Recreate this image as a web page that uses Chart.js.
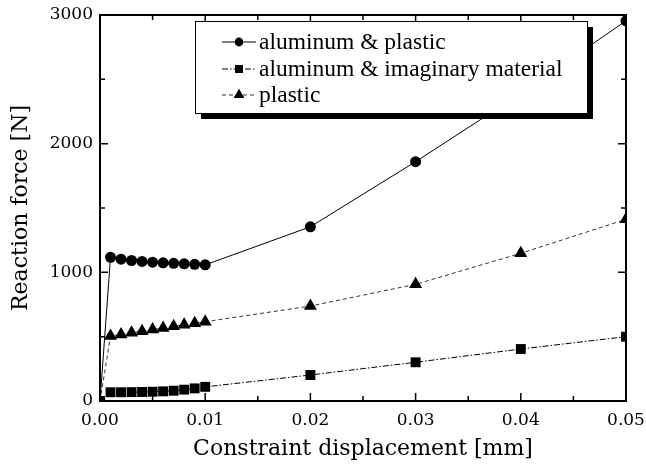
<!DOCTYPE html>
<html>
<head>
<meta charset="utf-8">
<script src="https://cdn.jsdelivr.net/npm/chart.js@4"></script>
<style>
  html, body { margin: 0; padding: 0; background: #fff; }
  #wrap { width: 646px; height: 465px; }
</style>
</head>
<body>
<div id="wrap"><canvas id="forceChart" width="646" height="465"></canvas></div>
<script>
/* Reaction force vs constraint displacement */

const dispMm = [0, 0.001, 0.002, 0.003, 0.004, 0.005, 0.006, 0.007, 0.008, 0.009, 0.01, 0.02, 0.03, 0.04, 0.05];
const alPlastic = [0, 1117, 1102, 1092, 1085, 1079, 1074, 1070, 1066, 1062, 1058, 1354, 1860, 2390, 2955];
const alImaginary = [0, 68, 68, 69, 70, 72, 75, 80, 88, 98, 110, 202, 301, 404, 500];
const plasticOnly = [0, 505, 517, 530, 543, 555, 567, 580, 592, 604, 616, 738, 907, 1148, 1412];

const seriesNames = ["aluminum & plastic", "aluminum & imaginary material", "plastic"];
const xTicks = [0, 0.01, 0.02, 0.03, 0.04, 0.05];
const yTicks = [0, 1000, 2000, 3000];

const TICK_FONT = { family: "DejaVu Serif", size: 17 };
const TITLE_FONT = { family: "DejaVu Serif", size: 22 };

function pts(ys) {
  return dispMm.map((x, i) => ({ x, y: ys[i] }));
}

const styles = [
  { marker: "circle", radius: 5.5, dash: [], color: "#000" },
  { marker: "rect", radius: 7, dash: [6, 2, 1.5, 2], color: "#000" },
  { marker: "triangle", radius: 7.5, dash: [4, 3], color: "#333" },
];

const datasets = [alPlastic, alImaginary, plasticOnly].map((ys, i) => ({
  label: seriesNames[i],
  data: pts(ys),
  showLine: true,
  borderColor: styles[i].color,
  borderWidth: 1,
  borderDash: styles[i].dash,
  pointStyle: styles[i].marker,
  pointRadius: styles[i].radius,
  pointBackgroundColor: "#000",
  pointBorderColor: "#000",
  pointBorderWidth: 0,
  clip: 0,
}));

// frame with inward ticks on all four sides, plus the boxed legend
const framePlugin = {
  id: "frame",
  afterDatasetsDraw(chart) {
    const { ctx, chartArea: a, scales } = chart;
    ctx.save();
    ctx.strokeStyle = "#000";
    ctx.lineWidth = 2;
    ctx.strokeRect(a.left, a.top, a.right - a.left, a.bottom - a.top);
    ctx.lineWidth = 1.5;
    ctx.beginPath();
    for (let k = 0; k <= 10; k++) {
      const px = scales.x.getPixelForValue(k * 0.005);
      const len = k % 2 === 0 ? 8 : 5;
      ctx.moveTo(px, a.bottom); ctx.lineTo(px, a.bottom - len);
      ctx.moveTo(px, a.top); ctx.lineTo(px, a.top + len);
    }
    for (let k = 0; k <= 6; k++) {
      const py = scales.y.getPixelForValue(k * 500);
      const len = k % 2 === 0 ? 8 : 5;
      ctx.moveTo(a.left, py); ctx.lineTo(a.left + len, py);
      ctx.moveTo(a.right, py); ctx.lineTo(a.right - len, py);
    }
    ctx.stroke();
    ctx.restore();
  },
  afterDraw(chart) {
    const { ctx } = chart;
    const box = { x: 195, y: 21, w: 392, h: 92 };
    ctx.save();
    ctx.fillStyle = "#000";
    ctx.fillRect(box.x + 6, box.y + 6, box.w, box.h);
    ctx.fillStyle = "#fff";
    ctx.fillRect(box.x, box.y, box.w, box.h);
    ctx.strokeStyle = "#000";
    ctx.lineWidth = 1;
    ctx.strokeRect(box.x + 0.5, box.y + 0.5, box.w, box.h);
    const rowY = [42, 69, 95];
    chart.data.datasets.forEach((ds, i) => {
      const y = rowY[i];
      ctx.strokeStyle = ds.borderColor;
      ctx.setLineDash(ds.borderDash);
      ctx.beginPath();
      ctx.moveTo(222, y); ctx.lineTo(256, y);
      ctx.stroke();
      ctx.setLineDash([]);
      Chart.helpers.drawPoint(ctx, { pointStyle: ds.pointStyle, radius: ds.pointRadius * 0.8, borderWidth: 0 }, 239, y);
      ctx.fillStyle = "#000";
      ctx.fill();
      ctx.font = "23.5px 'Liberation Serif'";
      ctx.textBaseline = "middle";
      ctx.fillText(ds.label, 259, y + 1);
    });
    ctx.restore();
  },
};

new Chart(document.getElementById("forceChart"), {
  type: "scatter",
  data: { datasets },
  plugins: [framePlugin],
  options: {
    responsive: false,
    animation: false,
    layout: { padding: { top: 15, right: 20, left: 0, bottom: 0 } },
    plugins: { legend: { display: false }, tooltip: { enabled: false } },
    scales: {
      x: {
        type: "linear",
        min: 0,
        max: 0.05,
        afterBuildTicks: (s) => { s.ticks = xTicks.map((v) => ({ value: v })); },
        afterFit: (s) => { s.height = 64; s.paddingLeft = 0; s.paddingRight = 0; },
        grid: { display: false, drawTicks: false },
        border: { display: false },
        ticks: { color: "#000", font: TICK_FONT, padding: 9, maxRotation: 0, callback: (v) => v.toFixed(2) },
        title: { display: true, text: "Constraint displacement [mm]", color: "#000", font: TITLE_FONT, padding: { top: 0, bottom: 3 } },
      },
      y: {
        min: 0,
        max: 3000,
        afterBuildTicks: (s) => { s.ticks = yTicks.map((v) => ({ value: v })); },
        afterFit: (s) => { s.width = 100; s.paddingTop = 0; s.paddingBottom = 0; },
        grid: { display: false, drawTicks: false },
        border: { display: false },
        ticks: { color: "#000", font: TICK_FONT, padding: 7, callback: (v) => String(v) },
        title: { display: true, text: "Reaction force [N]", color: "#000", font: TITLE_FONT, padding: { top: 8, bottom: 0 } },
      },
    },
  },
});
</script>
</body>
</html>
